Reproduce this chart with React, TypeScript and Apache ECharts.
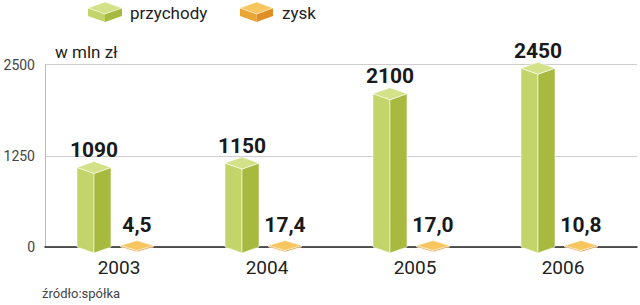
import React, { useEffect, useRef } from "react";
import * as echarts from "echarts";

const years = ["2003", "2004", "2005", "2006"];
const przychody = [1090, 1150, 2100, 2450];
const zysk = [4.5, 17.4, 17.0, 10.8];
const yTicks = { min: 0, max: 2500, interval: 1250 };

const GREEN = { left: "#c3d56a", right: "#a7ba3f", top: "#d3e289" };
const ORANGE = { left: "#eba535", right: "#de9025", top: "#f7c65f" };

function makeRender(opts: {
  off: number; w: number; d: number; minH: number; colors: any; gap: number; fmt: (v: number) => string;
}) {
  return (params: any, api: any) => {
    const idx = api.value(0);
    const v = api.value(1);
    const [cx, yv0] = api.coord([idx, v]);
    const [, yb] = api.coord([idx, 0]);
    const yv = Math.min(yv0, yb - opts.minH);
    const xc = cx + opts.off;
    const x0 = xc - opts.w / 2;
    const x1 = xc + opts.w / 2;
    const d = opts.d;
    const edge = { stroke: "rgba(255,255,255,0.7)", lineWidth: 0.8 };
    return {
      type: "group",
      children: [
        {
          type: "polygon",
          shape: { points: [[x0, yv], [xc, yv + d], [xc, yb + d], [x0, yb]] },
          style: { fill: opts.colors.left, ...edge },
        },
        {
          type: "polygon",
          shape: { points: [[xc, yv + d], [x1, yv], [x1, yb], [xc, yb + d]] },
          style: { fill: opts.colors.right, ...edge },
        },
        {
          type: "polygon",
          shape: { points: [[x0, yv], [xc, yv - d], [x1, yv], [xc, yv + d]] },
          style: { fill: opts.colors.top, ...edge },
        },
        {
          type: "text",
          style: {
            text: opts.fmt(v),
            x: xc,
            y: yv - d - opts.gap,
            align: "center",
            verticalAlign: "bottom",
            font: "bold 21px Roboto",
            fill: "#1a1a1a",
          },
        },
      ],
    };
  };
}

function legendBox(x: number, y: number, w: number, colors: any) {
  const xc = x + w / 2;
  const x1 = x + w;
  const d = 6;
  const h = 8;
  const top = y + d;
  return [
    { type: "polygon", shape: { points: [[x, top], [xc, top + d], [xc, top + d + h], [x, top + h]] }, style: { fill: colors.left } },
    { type: "polygon", shape: { points: [[xc, top + d], [x1, top], [x1, top + h], [xc, top + d + h]] }, style: { fill: colors.right } },
    { type: "polygon", shape: { points: [[x, top], [xc, top - d], [x1, top], [xc, top + d]] }, style: { fill: colors.top, stroke: "rgba(255,255,255,0.6)", lineWidth: 0.8 } },
  ];
}

export default function App() {
  const ref = useRef<HTMLDivElement>(null);
  useEffect(() => {
    const chart = echarts.init(ref.current!, null, { renderer: "svg" });
    chart.setOption({
      animation: false,
      backgroundColor: "#ffffff",
      grid: { left: 45, right: 3, top: 64.5, bottom: 58 },
      xAxis: {
        type: "category",
        data: years,
        axisLine: { lineStyle: { color: "#222", width: 1.5 } },
        axisTick: { show: false },
        axisLabel: { fontSize: 19, color: "#222", margin: 11, fontFamily: "Roboto" },
      },
      yAxis: {
        type: "value",
        min: yTicks.min,
        max: yTicks.max,
        interval: yTicks.interval,
        axisLine: { show: true, lineStyle: { color: "#bbb", width: 1 } },
        axisTick: { show: false },
        splitLine: { lineStyle: { color: "#cfcfcf", width: 1 } },
        axisLabel: { fontSize: 14, color: "#444", margin: 10, fontFamily: "Roboto", formatter: (v: number) => String(v) },
      },
      series: [
        {
          name: "przychody",
          type: "custom",
          data: przychody.map((v, i) => [i, v]),
          encode: { x: 0, y: 1 },
          renderItem: makeRender({ off: -25, w: 34, d: 6, minH: 2, colors: GREEN, gap: 1, fmt: (v) => String(v) }),
          z: 3,
        },
        {
          name: "zysk",
          type: "custom",
          data: zysk.map((v, i) => [i, v]),
          encode: { x: 0, y: 1 },
          renderItem: makeRender({ off: 18, w: 33, d: 5, minH: 1.5, colors: ORANGE, gap: 5, fmt: (v) => v.toFixed(1).replace(".", ",") }),
          z: 3,
        },
      ],
      graphic: [
        ...legendBox(88, 2, 34, GREEN),
        { type: "text", style: { text: "przychody", x: 130, y: 13, verticalAlign: "middle", font: "17px Roboto", fill: "#222" } },
        ...legendBox(240, 2, 33, ORANGE),
        { type: "text", style: { text: "zysk", x: 282, y: 13, verticalAlign: "middle", font: "17px Roboto", fill: "#222" } },
        { type: "text", style: { text: "w mln zł", x: 55, y: 52, verticalAlign: "middle", font: "17px Roboto", fill: "#222" } },
        { type: "text", style: { text: "źródło:spółka", x: 42, y: 293, verticalAlign: "middle", font: "13px Roboto", fill: "#444" } },
      ],
    });
    return () => chart.dispose();
  }, []);
  return <div ref={ref} style={{ position: "fixed", left: 0, top: 0, width: 640, height: 305 }} />;
}
